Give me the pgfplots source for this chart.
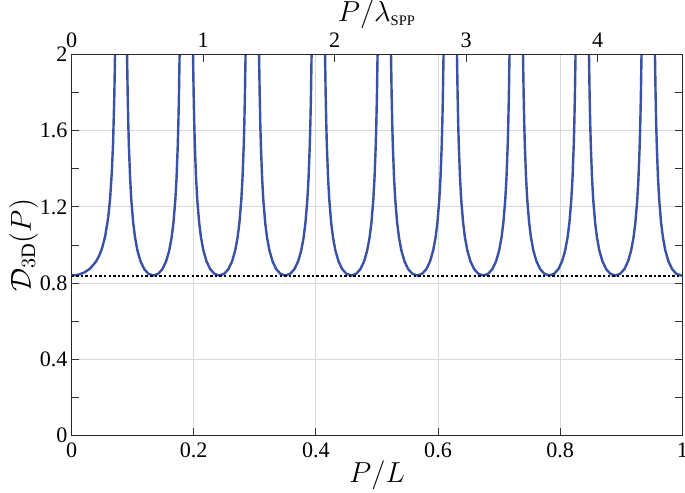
\documentclass[border=0pt]{standalone}
\usepackage{fontspec}
\setmainfont{Liberation Serif}
\usepackage{pgfplots}
\pgfplotsset{compat=1.18}
\definecolor{curveblue}{RGB}{58,82,166}
\begin{document}
\begin{tikzpicture}
\begin{axis}[
  scale only axis, width=304pt, height=189.5pt,
  xmin=0, xmax=1, ymin=0, ymax=2,
  xtick={0,0.2,0.4,0.6,0.8,1},
  ytick={0,0.4,0.8,1.2,1.6,2},
  minor ytick={0.2,0.6,1,1.4,1.8},
  xtick pos=bottom, ytick pos=both,
  tick align=inside,
  major tick length=3.5pt, minor tick length=3.5pt,
  tick style={black!80, line width=0.5pt},
  grid=major,
  major grid style={black!15, line width=0.5pt},
  axis line style={black!85, line width=0.6pt},
  xlabel={$P/L$}, ylabel={$\mathcal{D}_{3\mathrm{D}}(P)$},
  label style={font=\fontsize{14.5}{16}\selectfont},
  xlabel style={yshift=5pt},
  ylabel style={yshift=-6pt},
  tick label style={font=\fontsize{11}{13}\selectfont},
  yticklabel style={xshift=1.5pt},
  /pgf/number format/assume math mode=true,
]
\addplot[curveblue, line width=1.2pt] table[row sep=\\] {
x y\\
0 0.840\\ 0.01 0.8434\\ 0.02 0.8542\\ 0.03 0.8752\\ 0.04 0.9126\\ 0.045 0.9419\\ 0.05 0.9833\\ 0.055 1.0447\\ 0.06 1.1437\\ 0.063 1.238\\ 0.066 1.384\\ 0.068 1.536\\ 0.070 1.776\\ 0.071 1.9555\\ 0.072 2.207\\ 0.073 2.585\\ 0.074 3.215\\
0.0879 3.558\\ 0.0889 2.759\\ 0.0899 2.300\\ 0.0909 2.002\\ 0.0919 1.794\\ 0.0929 1.640\\ 0.0939 1.521\\ 0.0959 1.351\\ 0.0979 1.236\\ 0.1009 1.119\\ 0.1039 1.041\\ 0.1079 0.971\\ 0.1129 0.915\\ 0.1189 0.874\\ 0.1259 0.849\\ 0.1339 0.840\\ 0.1419 0.849\\ 0.1489 0.874\\ 0.1549 0.915\\ 0.1599 0.971\\ 0.1639 1.041\\ 0.1669 1.119\\ 0.1699 1.236\\ 0.1719 1.351\\ 0.1739 1.521\\ 0.1749 1.640\\ 0.1759 1.794\\ 0.1769 2.002\\ 0.1779 2.300\\ 0.1789 2.759\\ 0.1799 3.558\\
0.1959 3.558\\ 0.1969 2.759\\ 0.1979 2.300\\ 0.1989 2.002\\ 0.1999 1.794\\ 0.2009 1.640\\ 0.2019 1.521\\ 0.2039 1.351\\ 0.2059 1.236\\ 0.2089 1.119\\ 0.2119 1.041\\ 0.2159 0.971\\ 0.2209 0.915\\ 0.2269 0.874\\ 0.2339 0.849\\ 0.2419 0.840\\ 0.2499 0.849\\ 0.2569 0.874\\ 0.2629 0.915\\ 0.2679 0.971\\ 0.2719 1.041\\ 0.2749 1.119\\ 0.2779 1.236\\ 0.2799 1.351\\ 0.2819 1.521\\ 0.2829 1.640\\ 0.2839 1.794\\ 0.2849 2.002\\ 0.2859 2.300\\ 0.2869 2.759\\ 0.2879 3.558\\
0.3040 3.558\\ 0.3050 2.759\\ 0.3060 2.300\\ 0.3070 2.002\\ 0.3080 1.794\\ 0.3090 1.640\\ 0.3100 1.521\\ 0.3120 1.351\\ 0.3140 1.236\\ 0.3170 1.119\\ 0.3200 1.041\\ 0.3240 0.971\\ 0.3290 0.915\\ 0.3350 0.874\\ 0.3420 0.849\\ 0.3500 0.840\\ 0.3580 0.849\\ 0.3650 0.874\\ 0.3710 0.915\\ 0.3760 0.971\\ 0.3800 1.041\\ 0.3830 1.119\\ 0.3860 1.236\\ 0.3880 1.351\\ 0.3900 1.521\\ 0.3910 1.640\\ 0.3920 1.794\\ 0.3930 2.002\\ 0.3940 2.300\\ 0.3950 2.759\\ 0.3960 3.558\\
0.4120 3.558\\ 0.4130 2.759\\ 0.4140 2.300\\ 0.4150 2.002\\ 0.4160 1.794\\ 0.4170 1.640\\ 0.4180 1.521\\ 0.4200 1.351\\ 0.4220 1.236\\ 0.4250 1.119\\ 0.4280 1.041\\ 0.4320 0.971\\ 0.4370 0.915\\ 0.4430 0.874\\ 0.4500 0.849\\ 0.4580 0.840\\ 0.4660 0.849\\ 0.4730 0.874\\ 0.4790 0.915\\ 0.4840 0.971\\ 0.4880 1.041\\ 0.4910 1.119\\ 0.4940 1.236\\ 0.4960 1.351\\ 0.4980 1.521\\ 0.4990 1.640\\ 0.5000 1.794\\ 0.5010 2.002\\ 0.5020 2.300\\ 0.5030 2.759\\ 0.5040 3.558\\
0.5200 3.558\\ 0.5210 2.759\\ 0.5220 2.300\\ 0.5230 2.002\\ 0.5240 1.794\\ 0.5250 1.640\\ 0.5260 1.521\\ 0.5280 1.351\\ 0.5300 1.236\\ 0.5330 1.119\\ 0.5360 1.041\\ 0.5400 0.971\\ 0.5450 0.915\\ 0.5510 0.874\\ 0.5580 0.849\\ 0.5660 0.840\\ 0.5740 0.849\\ 0.5810 0.874\\ 0.5870 0.915\\ 0.5920 0.971\\ 0.5960 1.041\\ 0.5990 1.119\\ 0.6020 1.236\\ 0.6040 1.351\\ 0.6060 1.521\\ 0.6070 1.640\\ 0.6080 1.794\\ 0.6090 2.002\\ 0.6100 2.300\\ 0.6110 2.759\\ 0.6120 3.558\\
0.6280 3.558\\ 0.6290 2.759\\ 0.6300 2.300\\ 0.6310 2.002\\ 0.6320 1.794\\ 0.6330 1.640\\ 0.6340 1.521\\ 0.6360 1.351\\ 0.6380 1.236\\ 0.6410 1.119\\ 0.6440 1.041\\ 0.6480 0.971\\ 0.6530 0.915\\ 0.6590 0.874\\ 0.6660 0.849\\ 0.6740 0.840\\ 0.6820 0.849\\ 0.6890 0.874\\ 0.6950 0.915\\ 0.7000 0.971\\ 0.7040 1.041\\ 0.7070 1.119\\ 0.7100 1.236\\ 0.7120 1.351\\ 0.7140 1.521\\ 0.7150 1.640\\ 0.7160 1.794\\ 0.7170 2.002\\ 0.7180 2.300\\ 0.7190 2.759\\ 0.7200 3.558\\
0.7361 3.558\\ 0.7371 2.759\\ 0.7381 2.300\\ 0.7391 2.002\\ 0.7401 1.794\\ 0.7411 1.640\\ 0.7421 1.521\\ 0.7441 1.351\\ 0.7461 1.236\\ 0.7491 1.119\\ 0.7521 1.041\\ 0.7561 0.971\\ 0.7611 0.915\\ 0.7671 0.874\\ 0.7741 0.849\\ 0.7821 0.840\\ 0.7901 0.849\\ 0.7971 0.874\\ 0.8031 0.915\\ 0.8081 0.971\\ 0.8121 1.041\\ 0.8151 1.119\\ 0.8181 1.236\\ 0.8201 1.351\\ 0.8221 1.521\\ 0.8231 1.640\\ 0.8241 1.794\\ 0.8251 2.002\\ 0.8261 2.300\\ 0.8271 2.759\\ 0.8281 3.558\\
0.8441 3.558\\ 0.8451 2.759\\ 0.8461 2.300\\ 0.8471 2.002\\ 0.8481 1.794\\ 0.8491 1.640\\ 0.8501 1.521\\ 0.8521 1.351\\ 0.8541 1.236\\ 0.8571 1.119\\ 0.8601 1.041\\ 0.8641 0.971\\ 0.8691 0.915\\ 0.8751 0.874\\ 0.8821 0.849\\ 0.8901 0.840\\ 0.8981 0.849\\ 0.9051 0.874\\ 0.9111 0.915\\ 0.9161 0.971\\ 0.9201 1.041\\ 0.9231 1.119\\ 0.9261 1.236\\ 0.9281 1.351\\ 0.9301 1.521\\ 0.9311 1.640\\ 0.9321 1.794\\ 0.9331 2.002\\ 0.9341 2.300\\ 0.9351 2.759\\ 0.9361 3.558\\
0.9521 3.558\\ 0.9531 2.759\\ 0.9541 2.300\\ 0.9551 2.002\\ 0.9561 1.794\\ 0.9571 1.640\\ 0.9581 1.521\\ 0.9601 1.351\\ 0.9621 1.236\\ 0.9651 1.119\\ 0.9681 1.041\\ 0.9721 0.971\\ 0.9771 0.915\\ 0.9831 0.874\\ 0.9901 0.849\\ 0.9981 0.840\\ 1.0 0.8405\\
};
\addplot[black, line width=1.2pt, dash pattern=on 1.2pt off 1.1pt] coordinates {(0,0.838) (1,0.838)};
\coordinate (ll) at (rel axis cs:0,0);
\coordinate (ur) at (rel axis cs:1,1);
\end{axis}
\begin{axis}[
  scale only axis, width=304pt, height=189.5pt,
  xmin=0, xmax=4.645, ymin=0, ymax=2,
  axis x line*=top, axis y line=none,
  xtick={0,1,2,3,4},
  tick align=inside, major tick length=3.5pt,
  tick style={black!80, line width=0.5pt},
  axis line style={black!85, line width=0.6pt},
  xlabel={$P/\lambda_{\scriptscriptstyle\mathrm{SPP}}$},
  label style={font=\fontsize{14.5}{16}\selectfont},
  xlabel style={yshift=-5pt},
  tick label style={font=\fontsize{11}{13}\selectfont},
  /pgf/number format/assume math mode=true,
]
\end{axis}
\pgfresetboundingbox
\path[use as bounding box] ([xshift=-35.6pt,yshift=-28.5pt]ll) rectangle ([xshift=1.3pt,yshift=27.2pt]ur);
\end{tikzpicture}
\end{document}
